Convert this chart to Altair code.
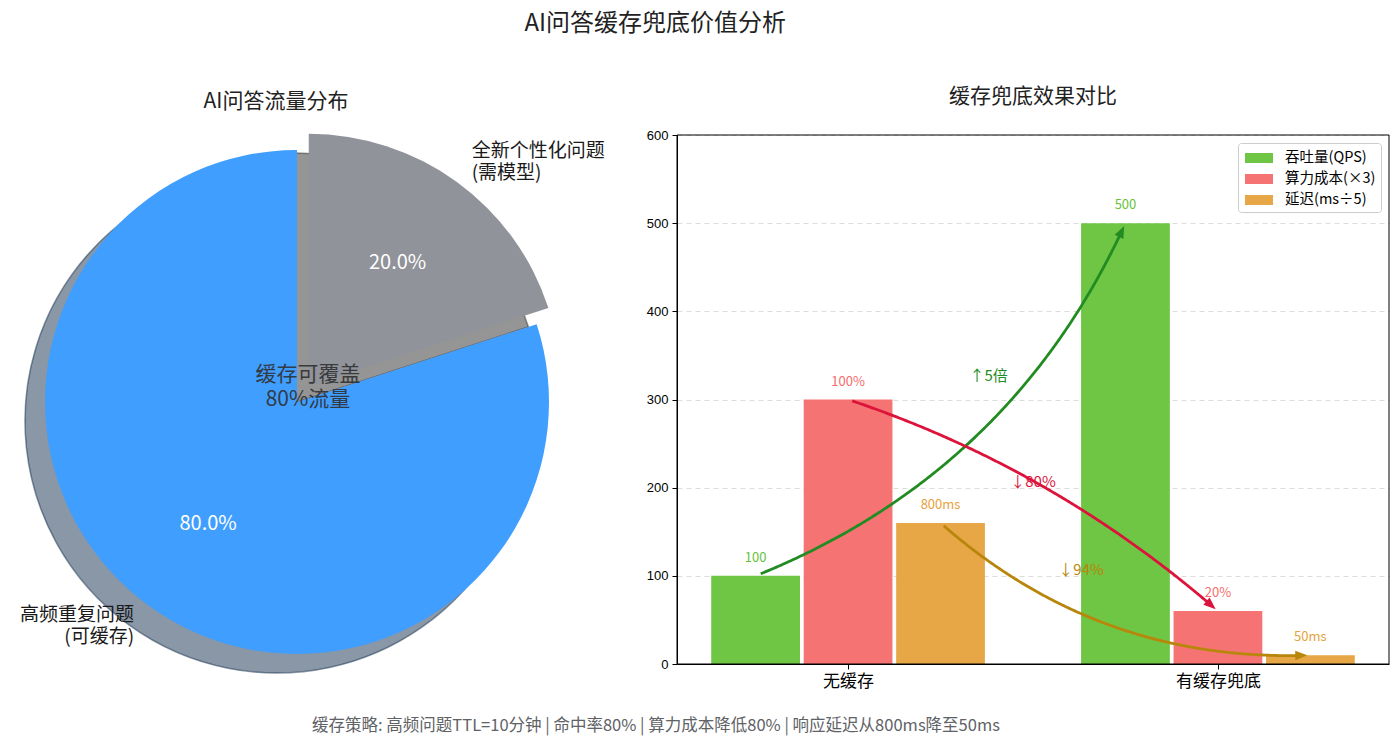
import json
import math
import altair as alt
import numpy as np
import pandas as pd

FONT = "Noto Sans CJK SC"

# ---------------- data ----------------
pie_labels = ["高频重复问题\n(可缓存)", "全新个性化问题\n(需模型)"]
pie_values = [80, 20]
pie_pct = ["80.0%", "20.0%"]
pie_colors = ["#409EFF", "#909399"]
pie_shadow_colors = ["#132F4D", "#2B2C2E"]
center_text = "缓存可覆盖\n80%流量"

categories = ["无缓存", "有缓存兜底"]
series = ["吞吐量(QPS)", "算力成本(×3)", "延迟(ms÷5)"]
series_values = [[100, 500], [300, 60], [160, 10]]
series_labels = [["100", "500"], ["100%", "20%"], ["800ms", "50ms"]]
series_colors = ["#67C23A", "#F56C6C", "#E6A23C"]

arrow_colors = ["#228B22", "#DC143C", "#B8860B"]
arrow_texts = ["↑5倍", "↓80%", "↓94%"]
arrow_text_x = [0.38, 0.50, 0.63]
arrow_text_y = [327, 206, 107]
arrow_rad = [0.2, -0.1, 0.2]

title_text = "AI问答缓存兜底价值分析"
pie_title = "AI问答流量分布"
bar_title = "缓存兜底效果对比"
footer_text = "缓存策略: 高频问题TTL=10分钟 | 命中率80% | 算力成本降低80% | 响应延迟从800ms降至50ms"

# ---------------- pie ----------------
PIE_W, PIE_H = 620, 529
CX, CY = 296, 267
R = 252
EXPLODE = 20
SH_DX, SH_DY = -20, 19

pie_df = pd.DataFrame({"label": pie_labels, "value": pie_values, "pct": pie_pct,
                       "k": [0, 1], "order": [1, 0]})
total = sum(pie_values)
mid = math.radians(360.0 * (pie_values[1] / 2) / total)
GX, GY = CX + EXPLODE * math.sin(mid), CY - EXPLODE * math.cos(mid)

theta = alt.Theta("value:Q", stack=True)
order = alt.Order("order:Q")


def show(k, on, off=0):
    return alt.condition(alt.datum.k == k, alt.value(on), alt.value(off))


def wedge(k, cx, cy, fill, op, sw=0):
    return alt.Chart(pie_df).mark_arc(outerRadius=R, fill=fill, stroke=fill, strokeWidth=sw).encode(
        theta=theta, order=order, x=alt.value(cx), y=alt.value(cy),
        fillOpacity=show(k, op), strokeOpacity=show(k, op))


shadow_main = wedge(0, CX + SH_DX, CY + SH_DY, pie_shadow_colors[0], 0.5, 1.5)
shadow_grey = wedge(1, GX + SH_DX, GY + SH_DY, pie_shadow_colors[1], 0.5, 1.5)
w_main = wedge(0, CX, CY, pie_colors[0], 1)
w_grey = wedge(1, GX, GY, pie_colors[1], 1)


def pct_text(k, cx, cy):
    return alt.Chart(pie_df).mark_text(radius=0.6 * R, fontSize=20, font=FONT, color="white",
                                       baseline="middle", align="center").encode(
        theta=theta, order=order, text="pct:N", x=alt.value(cx), y=alt.value(cy), opacity=show(k, 1))


def out_text(k, cx, cy, align):
    return alt.Chart(pie_df).mark_text(radius=1.1 * R, fontSize=19, font=FONT, color="#1a1a1a",
                                       baseline="middle", align=align, lineBreak="\n",
                                       lineHeight=22, dy=-11).encode(
        theta=theta, order=order, text="label:N", x=alt.value(cx), y=alt.value(cy), opacity=show(k, 1))


center = alt.Chart(pd.DataFrame({"t": [center_text]})).mark_text(
    fontSize=21, font=FONT, color="#303133", opacity=0.9, lineBreak="\n", lineHeight=25,
    baseline="middle", align="center").encode(text="t:N", x=alt.value(CX + 11), y=alt.value(CY - 27))

pie = alt.layer(shadow_main, shadow_grey, w_main, w_grey,
                pct_text(0, CX, CY), pct_text(1, GX, GY),
                out_text(0, CX, CY, "right"), out_text(1, GX, GY, "left"), center).properties(
    width=PIE_W, height=PIE_H,
    title=alt.TitleParams(pie_title, fontSize=21, font=FONT, fontWeight="normal", color="#222222",
                          offset=22, dx=-35, anchor="middle", frame="group"))

# ---------------- bars ----------------
W, H = 712, 529
BW, STEP = 0.24, 0.25
YMAX = 600
lo, hi = -STEP - STEP / 2, len(categories) - 1 + STEP + STEP / 2
XMIN, XMAX = lo - 0.05 * (hi - lo), hi + 0.05 * (hi - lo)

rows = []
for si, s in enumerate(series):
    for ci, c in enumerate(categories):
        xc = ci + (si - 1) * STEP
        rows.append({"series": s, "cat": c, "value": series_values[si][ci], "label": series_labels[si][ci],
                     "xc": xc, "x0": xc - BW / 2, "x1": xc + BW / 2, "base": 0})
bar_df = pd.DataFrame(rows)

xscale = alt.Scale(domain=[XMIN, XMAX], nice=False, zero=False)
yscale = alt.Scale(domain=[0, YMAX], nice=False)
xaxis = alt.Axis(values=list(range(len(categories))),
                 labelExpr=json.dumps(categories, ensure_ascii=False) + "[datum.value]",
                 title=None, grid=False, tickSize=5, tickColor="black", domainColor="black",
                 labelFontSize=17, labelFont=FONT, labelColor="black", labelPadding=4)
yaxis = alt.Axis(values=list(range(0, YMAX + 1, 100)), title=None, grid=True, gridDash=[5, 4],
                 gridColor="#dcdcdc", tickSize=5, tickColor="black", domainColor="black",
                 labelFontSize=13, labelFont="Liberation Sans", labelColor="black", labelPadding=4)
cscale = alt.Scale(domain=series, range=series_colors)


def X(f):
    return alt.X(f, scale=xscale, axis=xaxis)


def Y(f):
    return alt.Y(f, scale=yscale, axis=yaxis)


bars = alt.Chart(bar_df).mark_rect(opacity=0.95).encode(
    x=X("x0:Q"), x2="x1:Q", y=Y("value:Q"), y2="base:Q",
    color=alt.Color("series:N", scale=cscale, sort=series,
                    legend=alt.Legend(title=None, orient="top-right", offset=8,
                                      symbolType="M-1.4,-0.5H1.4V0.5H-1.4Z", symbolSize=400,
                                      symbolStrokeWidth=0, symbolOffset=6, labelOffset=16,
                                      labelFontSize=14.5, labelFont=FONT, labelColor="black",
                                      strokeColor="#cccccc", fillColor="white", padding=5,
                                      cornerRadius=3, rowPadding=4)))

vlabels = alt.Chart(bar_df).mark_text(dy=-18, fontSize=13, font=FONT, baseline="middle").encode(
    x=X("xc:Q"), y=Y("value:Q"), text="label:N",
    color=alt.Color("series:N", scale=cscale, sort=series))


def to_px(x, y):
    return (x - XMIN) / (XMAX - XMIN) * W, (1 - y / YMAX) * H


def from_px(px, py):
    return XMIN + px / W * (XMAX - XMIN), (1 - py / H) * YMAX


ARROW_PATH = "M0,0L0.55,1.4L-0.55,1.4Z"
arrow_layers = []
for si in range(len(series)):
    x0, y0 = to_px(0 + (si - 1) * STEP, series_values[si][0])
    x2, y2 = to_px(1 + (si - 1) * STEP, series_values[si][1])
    rad = arrow_rad[si]
    mx, my = (x0 + x2) / 2, (y0 + y2) / 2
    cx, cy = mx - rad * (y2 - y0), my + rad * (x2 - x0)
    t = np.linspace(0, 1, 200)
    px = (1 - t) ** 2 * x0 + 2 * t * (1 - t) * cx + t ** 2 * x2
    py = (1 - t) ** 2 * y0 + 2 * t * (1 - t) * cy + t ** 2 * y2
    seg = np.hypot(np.diff(px), np.diff(py))
    s = np.concatenate([[0], np.cumsum(seg)])
    L = s[-1]
    keep = (s >= 3) & (s <= L - 3 - 9)
    lx, ly = from_px(px[keep], py[keep])
    line_df = pd.DataFrame({"x": lx, "y": ly, "i": np.arange(keep.sum())})
    tip_x, tip_y = np.interp(L - 3, s, px), np.interp(L - 3, s, py)
    bx, by = np.interp(L - 11, s, px), np.interp(L - 11, s, py)
    ang = math.degrees(math.atan2(tip_x - bx, -(tip_y - by))) % 360
    hx, hy = from_px(tip_x, tip_y)
    head_df = pd.DataFrame({"x": [hx], "y": [hy], "a": [ang]})
    col = arrow_colors[si]
    arrow_layers.append(alt.Chart(line_df).mark_line(strokeWidth=2.8, color=col).encode(
        x=X("x:Q"), y=Y("y:Q"), order="i:Q"))
    arrow_layers.append(alt.Chart(head_df).mark_point(shape=ARROW_PATH, filled=True, size=300,
                                                      color=col, opacity=1, strokeWidth=0).encode(
        x=X("x:Q"), y=Y("y:Q"), angle=alt.Angle("a:Q", scale=None)))
    txt_df = pd.DataFrame({"x": [arrow_text_x[si]], "y": [arrow_text_y[si]], "t": [arrow_texts[si]]})
    arrow_layers.append(alt.Chart(txt_df).mark_text(fontSize=15, font=FONT, color=col,
                                                    baseline="middle").encode(
        x=X("x:Q"), y=Y("y:Q"), text="t:N"))

frame_df = pd.DataFrame({"x0": [XMIN], "x1": [XMAX], "y0": [0], "y1": [YMAX]})
frame = alt.Chart(frame_df).mark_rect(fill="transparent", stroke="black", strokeWidth=1).encode(
    x=X("x0:Q"), x2="x1:Q", y=Y("y1:Q"), y2="y0:Q")

bar = alt.layer(bars, vlabels, *arrow_layers, frame).properties(
    width=W, height=H,
    title=alt.TitleParams(bar_title, fontSize=21, font=FONT, fontWeight="normal", color="#222222",
                          offset=22, anchor="middle", frame="group"))

footer = alt.Chart(pd.DataFrame({"t": [footer_text]})).mark_text(
    fontSize=16.5, font=FONT, color="#606266", baseline="middle", align="center").encode(
    text="t:N", x=alt.value(655), y=alt.value(15)).properties(width=1300, height=30)

top = alt.hconcat(pie, bar, spacing=23).resolve_legend(color="independent")
chart = alt.vconcat(top, footer, spacing=20).resolve_legend(color="independent").properties(
    title=alt.TitleParams(title_text, fontSize=24, font=FONT, fontWeight="normal", color="#222222",
                          anchor="middle", dx=-40, offset=50),
    padding={"left": 0, "top": 11, "right": 0, "bottom": 0},
    background="white").configure_view(stroke="transparent")

chart.save("out.html", embed_options={"renderer": "svg", "actions": False})
